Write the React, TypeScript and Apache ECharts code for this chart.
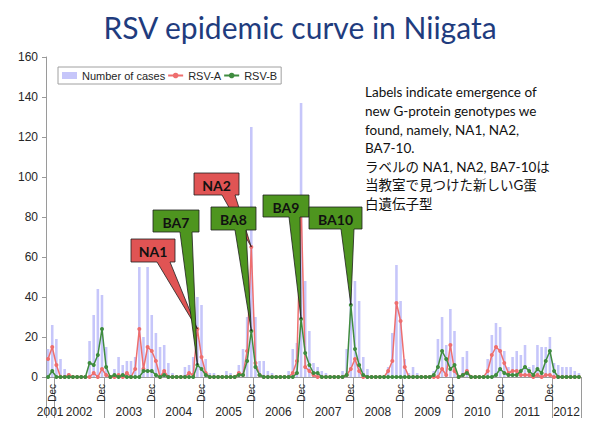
import React, { useEffect, useRef } from 'react';
import * as echarts from 'echarts';

// ---- categories (monthly, Nov 2001 .. Jul 2012) ----
const START_YEAR = 2001;
const START_MONTH = 10; // 0-based: November
const MONTH_COUNT = 129;
const MONTH_NAMES = ['Jan', 'Feb', 'Mar', 'Apr', 'May', 'Jun', 'Jul', 'Aug', 'Sep', 'Oct', 'Nov', 'Dec'];
const months: string[] = Array.from({ length: MONTH_COUNT }, (_, k) => {
  const m = (START_MONTH + k) % 12;
  const y = START_YEAR + Math.floor((START_MONTH + k) / 12);
  return MONTH_NAMES[m] + ' ' + y;
});

// ---- series values, grouped by calendar year ----
const cases2001 = [14, 26];
const cases2002 = [19, 9, 4, 2, 0, 0, 0, 0, 18, 31, 44, 41];
const cases2003 = [15, 0, 4, 10, 6, 8, 8, 10, 55, 20, 55, 31];
const cases2004 = [22, 15, 16, 7, 2, 0, 0, 5, 6, 10, 40, 36];
const cases2005 = [9, 2, 2, 1, 0, 3, 2, 0, 6, 14, 30, 125];
const cases2006 = [30, 8, 8, 3, 2, 0, 0, 0, 3, 14, 17, 137];
const cases2007 = [48, 23, 7, 5, 3, 2, 0, 0, 0, 3, 14, 44];
const cases2008 = [48, 38, 10, 4, 0, 0, 0, 0, 5, 22, 56, 38];
const cases2009 = [9, 2, 5, 2, 0, 0, 0, 3, 19, 30, 16, 34];
const cases2010 = [23, 0, 10, 13, 0, 0, 0, 0, 9, 21, 27, 25];
const cases2011 = [13, 5, 10, 13, 11, 16, 5, 6, 16, 15, 15, 20];
const cases2012 = [7, 6, 5, 5, 5, 3, 2];

const rsvA2001 = [9, 15];
const rsvA2002 = [6, 0, 0, 1, 0, 0, 0, 0, 0, 2, 0, 4];
const rsvA2003 = [1, 0, 0, 1, 0, 2, 0, 4, 24, 4, 15, 13];
const rsvA2004 = [8, 0, 3, 0, 0, 0, 0, 0, 2, 1, 24, 10];
const rsvA2005 = [2, 0, 0, 0, 0, 0, 0, 0, 2, 1, 13, 65];
const rsvA2006 = [7, 1, 0, 0, 0, 0, 0, 0, 0, 2, 8, 88];
const rsvA2007 = [5, 3, 1, 0, 0, 0, 0, 0, 0, 0, 1, 4];
const rsvA2008 = [9, 3, 0, 0, 0, 0, 0, 0, 3, 8, 37, 28];
const rsvA2009 = [5, 0, 0, 0, 0, 0, 0, 0, 0, 4, 1, 16];
const rsvA2010 = [3, 0, 1, 3, 0, 0, 0, 0, 3, 11, 15, 13];
const rsvA2011 = [7, 2, 3, 3, 1, 1, 1, 0, 1, 0, 1, 1];
const rsvA2012 = [0, 0, 0, 0, 0, 0, 0];

const rsvB2001 = [0, 3];
const rsvB2002 = [0, 0, 0, 0, 0, 0, 0, 0, 7, 6, 11, 24];
const rsvB2003 = [5, 0, 1, 0, 1, 0, 0, 0, 0, 3, 3, 3];
const rsvB2004 = [1, 0, 1, 0, 0, 0, 0, 0, 0, 0, 6, 4];
const rsvB2005 = [1, 0, 0, 0, 0, 0, 0, 0, 1, 1, 8, 23];
const rsvB2006 = [5, 1, 0, 0, 0, 0, 0, 0, 0, 0, 2, 29];
const rsvB2007 = [12, 6, 2, 2, 0, 0, 0, 0, 0, 0, 1, 36];
const rsvB2008 = [14, 6, 1, 0, 0, 0, 0, 0, 0, 0, 0, 0];
const rsvB2009 = [0, 0, 0, 0, 0, 0, 0, 1, 5, 13, 9, 4];
const rsvB2010 = [6, 0, 1, 2, 0, 0, 0, 0, 0, 0, 1, 4];
const rsvB2011 = [2, 1, 1, 1, 3, 5, 3, 1, 4, 2, 8, 13];
const rsvB2012 = [3, 0, 0, 0, 0, 0, 0];

const cases = [
  ...cases2001, ...cases2002, ...cases2003, ...cases2004, ...cases2005, ...cases2006,
  ...cases2007, ...cases2008, ...cases2009, ...cases2010, ...cases2011, ...cases2012,
];
const rsvA = [
  ...rsvA2001, ...rsvA2002, ...rsvA2003, ...rsvA2004, ...rsvA2005, ...rsvA2006,
  ...rsvA2007, ...rsvA2008, ...rsvA2009, ...rsvA2010, ...rsvA2011, ...rsvA2012,
];
const rsvB = [
  ...rsvB2001, ...rsvB2002, ...rsvB2003, ...rsvB2004, ...rsvB2005, ...rsvB2006,
  ...rsvB2007, ...rsvB2008, ...rsvB2009, ...rsvB2010, ...rsvB2011, ...rsvB2012,
];

// ---- y axis ----
const Y_MIN = 0;
const Y_MAX = 160;
const Y_STEP = 20;

// ---- callouts: genotype label, series, month it points at ----
const calloutLabels = ['NA1', 'BA7', 'NA2', 'BA8', 'BA9', 'BA10'];
const calloutSeries = ['RSV-A', 'RSV-B', 'RSV-A', 'RSV-B', 'RSV-B', 'RSV-B'];
const calloutMonths = ['Nov 2004', 'Nov 2004', 'Dec 2005', 'Dec 2005', 'Dec 2006', 'Dec 2007'];
// layout of the boxes (pixels): x, y, w, h, tail base start, tail base end
const calloutBoxes = [
  [131, 239, 44, 23, 157, 170],
  [153, 210, 46, 22, 180, 192],
  [194, 173, 45, 22, 222, 235],
  [211, 207, 45, 23, 235, 246],
  [263, 195, 46, 22, 289, 300],
  [309, 207, 53, 22, 341, 354],
];

const noteLines = [
  'Labels indicate emergence of',
  'new G-protein genotypes we',
  'found, namely, NA1, NA2,',
  'BA7-10.',
  'ラベルの NA1, NA2, BA7-10は',
  '当教室で見つけた新しいG蛋',
  '白遺伝子型',
];

const COLORS = {
  bar: '#C6C6FA',
  a: '#EE6E6E',
  b: '#3F8C3F',
  red: '#E05454',
  green: '#4E951F',
  axis: '#9A9A9A',
  text: '#262626',
  title: '#1F3C7E',
};

export default function App() {
  const ref = useRef<HTMLDivElement>(null);

  useEffect(() => {
    document.body.style.margin = '0';
    if (!ref.current) return;
    const chart = echarts.init(ref.current, null, { renderer: 'svg' });

    // year groups derived from the month categories
    const years: string[] = [];
    const yearStart: number[] = [];
    const yearEnd: number[] = [];
    months.forEach((m, i) => {
      const y = m.split(' ')[1];
      if (years[years.length - 1] !== y) {
        years.push(y);
        yearStart.push(i);
        yearEnd.push(i + 1);
      } else {
        yearEnd[yearEnd.length - 1] = i + 1;
      }
    });
    const boundaries = [...yearStart, months.length];
    const centers = years.map((_, k) => (yearStart[k] + yearEnd[k]) / 2);

    const option: any = {
      animation: false,
      backgroundColor: '#ffffff',
      title: {
        text: 'RSV epidemic curve in Niigata',
        left: 'center',
        top: 7,
        textStyle: { fontFamily: 'Lato', fontSize: 30, fontWeight: 'normal', color: COLORS.title },
      },
      legend: {
        left: 58,
        top: 67,
        padding: [3, 4],
        itemGap: 2,
        itemWidth: 15,
        itemHeight: 7,
        backgroundColor: '#ffffff',
        borderColor: '#a0a0a0',
        borderWidth: 1,
        textStyle: { fontFamily: 'Liberation Sans', fontSize: 11, color: COLORS.text },
        data: [{ name: 'Number of cases', icon: 'rect' }, 'RSV-A', 'RSV-B'],
      },
      grid: { left: 46, right: 19, top: 57, bottom: 60, containLabel: false },
      xAxis: [
        {
          type: 'category',
          data: months,
          boundaryGap: true,
          axisLine: { show: true, lineStyle: { color: COLORS.axis, width: 1 } },
          axisTick: { show: false },
          axisLabel: {
            interval: (_i: number, v: string) => v.startsWith('Dec'),
            formatter: (v: string) => v.split(' ')[0],
            rotate: 90,
            margin: 7,
            fontFamily: 'Liberation Sans',
            fontSize: 10,
            color: COLORS.text,
          },
          splitLine: { show: false },
        },
        {
          type: 'value',
          position: 'bottom',
          min: 0,
          max: months.length,
          axisLine: { show: false },
          splitLine: { show: false },
          axisTick: {
            show: true,
            inside: false,
            length: 41,
            customValues: boundaries,
            lineStyle: { color: COLORS.axis, width: 1 },
          },
          axisLabel: {
            show: true,
            customValues: centers,
            margin: 29,
            fontFamily: 'Liberation Sans',
            fontSize: 12,
            color: COLORS.text,
            formatter: (v: number) => {
              const k = centers.findIndex((c) => Math.abs(c - v) < 1e-6);
              return k >= 0 ? years[k] : '';
            },
          },
        },
      ],
      yAxis: {
        type: 'value',
        min: Y_MIN,
        max: Y_MAX,
        interval: Y_STEP,
        axisLine: { show: true, lineStyle: { color: COLORS.axis, width: 1 } },
        axisTick: { show: true, length: 4, lineStyle: { color: COLORS.axis } },
        splitLine: { show: false },
        axisLabel: { fontFamily: 'Liberation Sans', fontSize: 12, color: COLORS.text, margin: 8 },
      },
      series: [
        {
          name: 'Number of cases',
          type: 'bar',
          data: cases,
          barWidth: '62%',
          itemStyle: { color: COLORS.bar },
          z: 1,
        },
        {
          name: 'RSV-A',
          type: 'line',
          data: rsvA,
          symbol: 'circle',
          symbolSize: 4,
          showAllSymbol: true,
          lineStyle: { color: COLORS.a, width: 1.5 },
          itemStyle: { color: COLORS.a },
          z: 3,
        },
        {
          name: 'RSV-B',
          type: 'line',
          data: rsvB,
          symbol: 'circle',
          symbolSize: 4,
          showAllSymbol: true,
          lineStyle: { color: COLORS.b, width: 1.5 },
          itemStyle: { color: COLORS.b },
          z: 4,
        },
      ],
    };
    chart.setOption(option);

    const seriesIndex: Record<string, number> = { 'RSV-A': 1, 'RSV-B': 2 };
    const seriesData: Record<string, number[]> = { 'RSV-A': rsvA, 'RSV-B': rsvB };

    const callouts = calloutLabels.map((label, k) => {
      const sName = calloutSeries[k];
      const idx = months.indexOf(calloutMonths[k]);
      const tip = chart.convertToPixel({ seriesIndex: seriesIndex[sName] }, [idx, seriesData[sName][idx]]) as number[];
      const [x, y, w, h, b1, b2] = calloutBoxes[k];
      const fill = sName === 'RSV-A' ? COLORS.red : COLORS.green;
      return {
        type: 'group',
        z: 100 + k,
        children: [
          {
            type: 'polygon',
            z: 100 + k,
            shape: {
              points: [
                [x, y], [x + w, y], [x + w, y + h], [b2, y + h], [tip[0], tip[1]], [b1, y + h], [x, y + h],
              ],
            },
            style: { fill, stroke: '#1e1e1e', lineWidth: 0.8 },
          },
          {
            type: 'text',
            z: 100 + k,
            x: x + w / 2,
            y: y + h / 2 + 1,
            style: {
              text: label,
              align: 'center',
              verticalAlign: 'middle',
              fontFamily: 'Lato',
              fontWeight: 'bold',
              fontSize: 14,
              fill: '#111111',
            },
          },
        ],
      };
    });

    chart.setOption({
      graphic: [
        {
          type: 'text',
          left: 365,
          top: 83,
          z: 50,
          style: {
            text: noteLines.join('\n'),
            fontFamily: 'Lato, "Noto Sans CJK JP"',
            fontSize: 13.5,
            lineHeight: 18.6,
            fill: '#111111',
          },
        },
        ...callouts,
      ],
    });

    return () => chart.dispose();
  }, []);

  return <div ref={ref} style={{ width: 600, height: 437 }} />;
}
